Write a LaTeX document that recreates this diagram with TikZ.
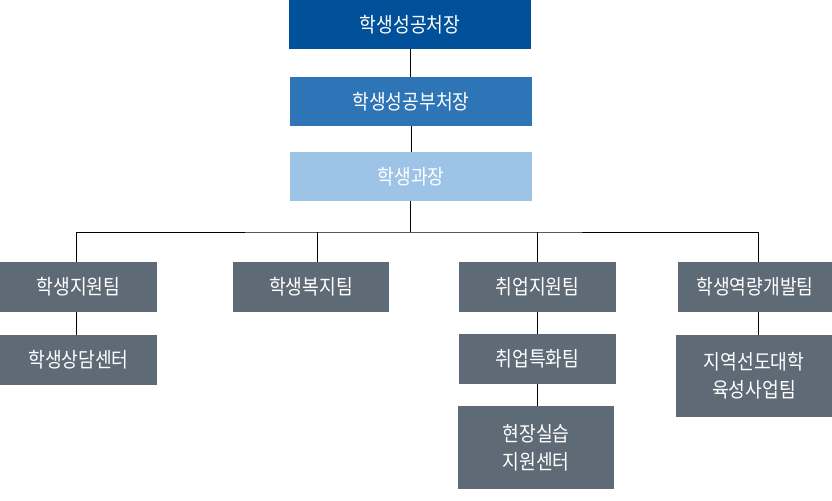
\documentclass[tikz,border=0pt]{standalone}
\usepackage{fontspec}
\setmainfont{Noto Sans CJK KR}[FakeStretch=0.88]
\definecolor{deanblue}{HTML}{00509A}
\definecolor{viceblue}{HTML}{2E75B7}
\definecolor{chiefblue}{HTML}{9DC3E6}
\definecolor{teamgray}{HTML}{5E6A76}
\begin{document}
\begin{tikzpicture}[x=0.75pt,y=-0.75pt,
    orgbox/.style={minimum width=157*0.75pt, minimum height=50*0.75pt, inner sep=0pt,
      fill=teamgray, text=white, align=center, font=\fontsize{15.5}{21}\selectfont},
    headbox/.style={orgbox, minimum width=242*0.75pt, minimum height=49*0.75pt},
    link/.style={line width=0.75pt, black}]
  \useasboundingbox (0,0) rectangle (832,500);

  %% heads
  \node[headbox, fill=deanblue] (dean) at (410,24.5) {학생성공처장};
  \node[headbox, fill=viceblue] (vice) at (411,101.5) {학생성공부처장};
  \node[headbox, fill=chiefblue] (chief) at (411,176.5) {학생과장};

  %% teams
  \node[orgbox] (support) at (78.5,287) {학생지원팀};
  \node[orgbox, minimum width=156*0.75pt] (welfare) at (311,287) {학생복지팀};
  \node[orgbox] (career) at (537.5,287) {취업지원팀};
  \node[orgbox, minimum width=155*0.75pt] (growth) at (755,287) {학생역량개발팀};

  %% centers
  \node[orgbox] (counsel) at (78.5,360) {학생상담센터};
  \node[orgbox] (special) at (537.5,359) {취업특화팀};
  \node[orgbox, minimum width=156*0.75pt, minimum height=82*0.75pt] (region) at (754,376)
    {지역선도대학\\육성사업팀};
  \node[orgbox, minimum width=156*0.75pt, minimum height=83*0.75pt] (field) at (536,447.5)
    {현장실습\\지원센터};

  %% links
  \coordinate (bus) at (410,232);
  \coordinate (dropA) at ([xshift=-2.5*0.75pt]support.north);
  \coordinate (dropB) at ([xshift=6*0.75pt]welfare.north);
  \coordinate (dropD) at ([xshift=3*0.75pt]growth.north);
  \draw[link] (dean.south) -- (dean.south |- vice.north);
  \draw[link] (vice.south) -- (vice.south |- chief.north);
  \draw[link] (bus |- chief.south) -- (bus);
  \draw[link] (dropA) |- (bus) -| (dropD);
  \draw[link] (dropB) -- (dropB |- bus);
  \draw[link] (career.north) -- (career.north |- bus);
  \draw[link] (dropA |- support.south) -- (dropA |- counsel.north);
  \draw[link] (career.south) -- (special.north);
  \draw[link] (special.south) -- (special.south |- field.north);
  \draw[link] (dropD |- growth.south) -- (dropD |- region.north);

\end{tikzpicture}
\end{document}
